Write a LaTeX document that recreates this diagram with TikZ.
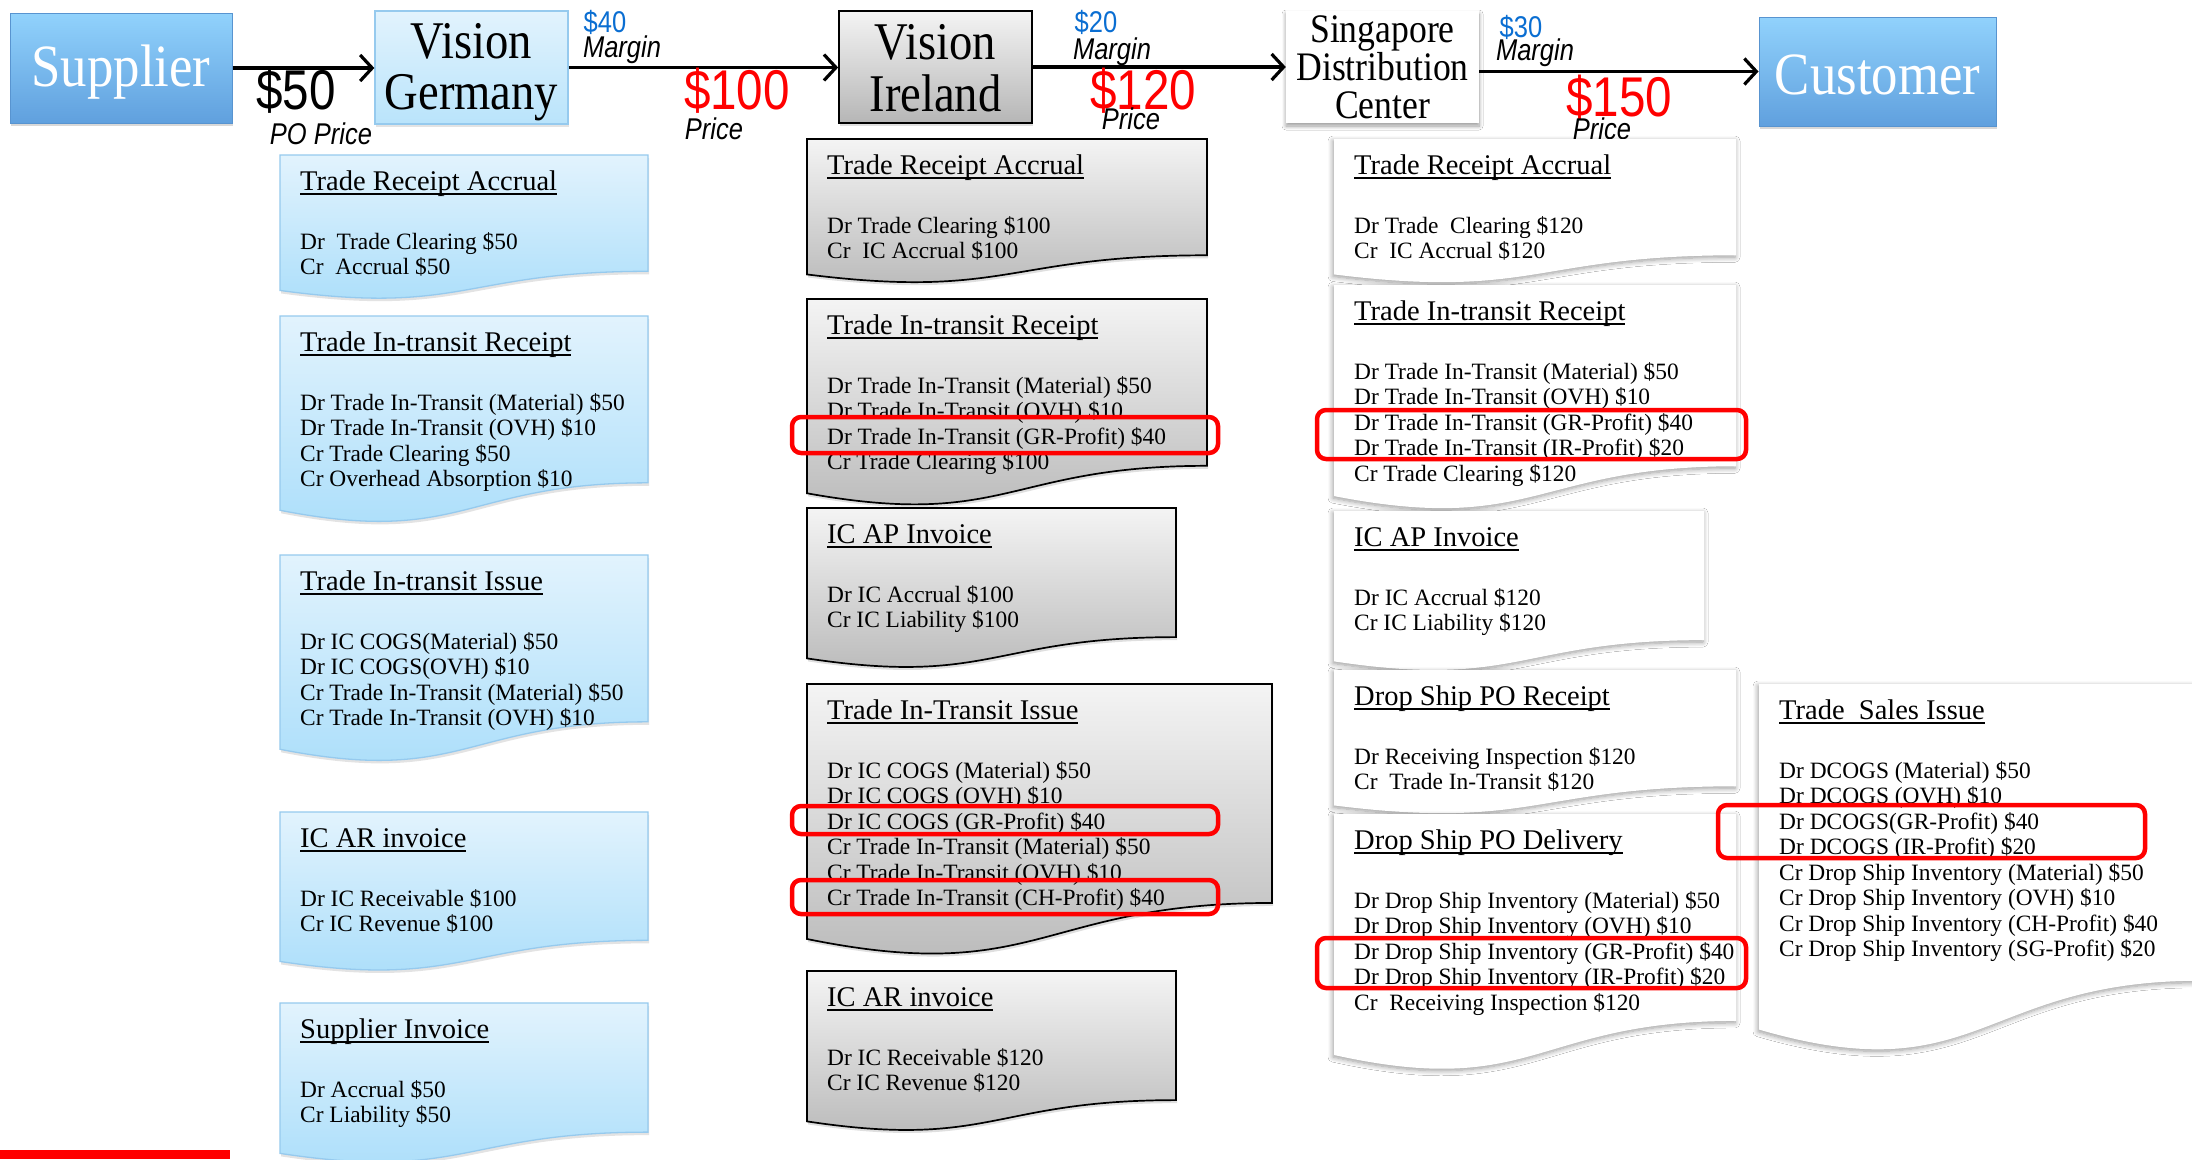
\documentclass[tikz,border=0pt]{standalone}
\usepackage{fontspec}
\setmainfont{Liberation Serif}
\newfontfamily\boxfont[FakeStretch=0.88]{Liberation Serif}
\newfontfamily\tagfont[FakeStretch=0.85]{Liberation Sans}
\usetikzlibrary{arrows.meta,shadows,shadows.blur}

\definecolor{blueTop}{RGB}{226,243,253}
\definecolor{blueBot}{RGB}{168,221,250}
\definecolor{blueEdge}{RGB}{150,202,238}
\definecolor{grayTop}{RGB}{244,244,244}
\definecolor{grayBot}{RGB}{182,182,182}
\definecolor{endTop}{RGB}{145,210,252}
\definecolor{endBot}{RGB}{96,160,222}
\definecolor{endEdge}{RGB}{88,148,208}
\definecolor{marginBlue}{RGB}{10,110,210}
\definecolor{hlRed}{RGB}{255,0,0}

% underline drawn just under the baseline
\newcommand{\ulx}[1]{\setbox0=\hbox{#1}\rlap{\copy0}\rule[-0.16em]{\wd0}{0.05em}}
% lower a box's contents while keeping its size
\newcommand{\lowerby}[2]{\raisebox{-#1}[\height][\depth]{#2}}
\newcommand{\stack}[1]{\begin{tabular}{@{}c@{}}#1\end{tabular}}

% document shape: rectangle with a wavy bottom edge, plus title and entry lines
% #1 name, #2 left, #3 right, #4 top, #5 height, #6 style, #7 title, #8 lines
\newcommand{\docbox}[8]{%
  \path[#6] (#2,#4) -- (#3,#4) -- (#3,{#4+0.802*#5})
    .. controls ({(#2+#3)/2},{#4+0.802*#5}) and ({(#2+#3)/2},{#4+1.1075*#5})
    .. (#2,{#4+0.934*#5}) -- cycle;
  \node[doctitle] (#1-t) at ({#2+20},{#4+35}) {\ulx{#7}};
  \foreach \t [count=\i] in {#8} {%
    \node[docline] (#1-\i) at ({#2+20},{#4+94+(\i-1)*25.5}) {\t};}%
}

\begin{document}
\begin{tikzpicture}[x=1pt,y=-1pt,
  doctitle/.style={anchor=base west,inner sep=0pt,font=\fontsize{28.5}{30}\selectfont},
  docline/.style={anchor=base west,inner sep=0pt,font=\fontsize{23.4}{25.5}\selectfont},
  docblue/.style={top color=blueTop,bottom color=blueBot,draw=blueEdge,line width=1.3pt,
    drop shadow={shadow xshift=1pt,shadow yshift=-3pt,opacity=0.22}},
  docgray/.style={top color=grayTop,bottom color=grayBot,draw=black,line width=1.7pt,
    drop shadow={shadow xshift=1pt,shadow yshift=-3pt,opacity=0.25}},
  docwhite/.style={fill=white,
    blur shadow={shadow xshift=-1pt,shadow yshift=-2pt,shadow blur radius=5pt,
      shadow blur steps=8,shadow opacity=40}},
  party/.style={rectangle,inner sep=0pt,align=center},
  endbox/.style={party,top color=endTop,bottom color=endBot,draw=endEdge,line width=1pt,
    text=white,font=\boxfont\fontsize{60}{60}\selectfont,
    drop shadow={shadow xshift=1pt,shadow yshift=-3pt,opacity=0.3}},
  bluebox/.style={party,top color=blueTop,bottom color=blueBot!80!white,draw=blueEdge,line width=1.3pt,
    font=\boxfont\fontsize{53}{51}\selectfont,
    drop shadow={shadow xshift=1pt,shadow yshift=-3pt,opacity=0.22}},
  graybox/.style={party,top color=grayTop,bottom color=grayBot,draw=black,line width=1.7pt,
    font=\boxfont\fontsize{53}{51}\selectfont,
    drop shadow={shadow xshift=1pt,shadow yshift=-3pt,opacity=0.25}},
  whitebox/.style={party,fill=white,font=\boxfont\fontsize{40.5}{38}\selectfont,
    blur shadow={shadow xshift=0pt,shadow yshift=-3pt,shadow blur radius=4pt,
      shadow blur steps=8,shadow opacity=40}},
  flow/.style={line width=3.2pt,-{Straight Barb[length=12pt,width=26pt]}},
  bigprice/.style={inner sep=0pt,text=hlRed,font=\tagfont\fontsize{56}{56}\selectfont},
  poprice/.style={inner sep=0pt,font=\tagfont\fontsize{56}{56}\selectfont},
  margin/.style={inner sep=0pt,text=marginBlue,font=\tagfont\fontsize{30}{30}\selectfont},
  caption/.style={inner sep=0pt,font=\tagfont\fontsize{30}{30}\selectfont\itshape},
  hl/.style={draw=hlRed,line width=4.5pt,rounded corners=9pt}
]
\fill[white] (0,0) rectangle (2192,1159);
\useasboundingbox (0,0) rectangle (2192,1159);

% ---- the supply chain ----
\node[endbox,minimum width=222pt,minimum height=110pt] (supplier) at (121,68) {\lowerby{4pt}{Supplier}};
\node[bluebox,minimum width=193pt,minimum height=113pt] (germany) at (471.5,67.5) {\lowerby{6pt}{\stack{Vision\\Germany}}};
\node[graybox,minimum width=193pt,minimum height=112pt] (ireland) at (935.5,67) {\lowerby{8pt}{\stack{Vision\\Ireland}}};
\node[whitebox,minimum width=193pt,minimum height=112pt] (sdc) at (1382.5,67) {Singapore\\Distribution\\Center};
\node[endbox,minimum width=237pt,minimum height=109pt] (customer) at (1877.5,71.5) {\lowerby{3pt}{Customer}};

\draw[flow] (supplier.east) -- (supplier.east -| germany.west);
\draw[flow] (germany.east) -- (germany.east -| ireland.west);
\draw[flow] (ireland.east) -- (ireland.east -| sdc.west);
\draw[flow] (sdc.east |- customer.west) -- (customer.west);

% prices and margins along the flow
\node[poprice] (p50) at (296,91) {\$50};
\node[caption] (p50c) at (321,134) {PO Price};
\node[margin] (m40) at (605,22) {\$40};
\node[caption] (m40c) at (622,50) {Margin};
\node[bigprice] (p100) at (737,91) {\$100};
\node[caption] (p100c) at (714,129) {Price};
\node[margin] (m20) at (1096,22) {\$20};
\node[caption] (m20c) at (1112,52) {Margin};
\node[bigprice] (p120) at (1143,91) {\$120};
\node[caption] (p120c) at (1131,119) {Price};
\node[margin] (m30) at (1521,27) {\$30};
\node[caption] (m30c) at (1535,53) {Margin};
\node[bigprice] (p150) at (1619,98) {\$150};
\node[caption] (p150c) at (1602,129) {Price};

% ---- Vision Germany postings ----
\docbox{a1}{280}{648}{155}{145}{docblue}{Trade Receipt Accrual}
  {Dr\ \ Trade Clearing \$50, Cr\ \ Accrual \$50}
\docbox{a2}{280}{648}{316}{208}{docblue}{Trade In-transit Receipt}
  {Dr Trade In-Transit (Material) \$50, Dr Trade In-Transit (OVH) \$10,
   Cr Trade Clearing \$50, Cr Overhead Absorption\ \$10}
\docbox{a3}{280}{648}{555}{208}{docblue}{Trade In-transit Issue}
  {Dr IC COGS(Material) \$50, Dr IC COGS(OVH) \$10,
   Cr Trade In-Transit (Material) \$50, Cr Trade In-Transit (OVH) \$10}
\docbox{a4}{280}{648}{812}{160}{docblue}{IC AR invoice}
  {Dr IC Receivable\ \$100, Cr IC Revenue \$100}
\docbox{a5}{280}{648}{1003}{161}{docblue}{Supplier Invoice}
  {Dr Accrual \$50, Cr Liability \$50}

% ---- Vision Ireland postings ----
\docbox{b1}{807}{1207}{139}{145}{docgray}{Trade Receipt Accrual}
  {Dr Trade Clearing \$100, Cr\ \ IC Accrual \$100}
\docbox{b2}{807}{1207}{299}{208}{docgray}{Trade In-transit Receipt}
  {Dr Trade In-Transit (Material) \$50, Dr Trade In-Transit (OVH) \$10,
   Dr Trade In-Transit (GR-Profit) \$40, Cr Trade Clearing \$100}
\docbox{b3}{807}{1176}{508}{161}{docgray}{IC AP Invoice}
  {Dr IC Accrual \$100, Cr IC Liability\ \$100}
\docbox{b4}{807}{1272}{684}{273}{docgray}{Trade In-Transit Issue}
  {Dr IC COGS (Material) \$50, Dr IC COGS (OVH) \$10, Dr IC COGS (GR-Profit) \$40,
   Cr Trade In-Transit (Material) \$50, Cr Trade In-Transit (OVH) \$10,
   Cr Trade In-Transit (CH-Profit) \$40}
\docbox{b5}{807}{1176}{971}{161}{docgray}{IC AR invoice}
  {Dr IC Receivable\ \$120, Cr IC Revenue \$120}

% ---- Singapore Distribution Center postings ----
\docbox{c1}{1334}{1736}{139}{145}{docwhite}{Trade Receipt Accrual}
  {Dr Trade\ \ Clearing \$120, Cr\ \ IC Accrual \$120}
\docbox{c2}{1334}{1736}{285}{226}{docwhite}{Trade In-transit Receipt}
  {Dr Trade In-Transit (Material) \$50, Dr Trade In-Transit (OVH) \$10,
   Dr Trade In-Transit (GR-Profit) \$40, Dr Trade In-Transit (IR-Profit) \$20,
   Cr Trade Clearing \$120}
\docbox{c3}{1334}{1704}{511}{161}{docwhite}{IC AP Invoice}
  {Dr IC Accrual \$120, Cr IC Liability \$120}
\docbox{c4}{1334}{1736}{670}{145}{docwhite}{Drop Ship PO Receipt}
  {Dr Receiving Inspection\ \$120, Cr\ \ Trade In-Transit \$120}
\docbox{c5}{1334}{1736}{814}{258}{docwhite}{Drop Ship PO Delivery}
  {Dr Drop Ship Inventory (Material) \$50, Dr Drop Ship Inventory (OVH) \$10,
   Dr Drop Ship Inventory (GR-Profit) \$40, Dr Drop Ship Inventory (IR-Profit) \$20,
   Cr\ \ Receiving Inspection\ \$120}

% ---- Customer side posting ----
\docbox{d1}{1759}{2200}{684}{370}{docwhite}{Trade\ \ Sales Issue}
  {Dr DCOGS (Material) \$50, Dr DCOGS (OVH) \$10, Dr DCOGS(GR-Profit) \$40,
   Dr DCOGS (IR-Profit) \$20, Cr Drop Ship Inventory (Material) \$50,
   Cr Drop Ship Inventory (OVH) \$10, Cr Drop Ship Inventory (CH-Profit) \$40,
   Cr Drop Ship Inventory (SG-Profit) \$20}

% ---- profit lines called out ----
\draw[hl] (792,417) rectangle (1218,453);
\draw[hl] (792,806) rectangle (1218,834);
\draw[hl] (792,880) rectangle (1218,914);
\draw[hl] (1317,410) rectangle (1746,459);
\draw[hl] (1317,938) rectangle (1746,988);
\draw[hl] (1718,805) rectangle (2145,858);

% corner rule
\fill[hlRed] (0,1150) rectangle (230,1159);
\end{tikzpicture}
\end{document}
